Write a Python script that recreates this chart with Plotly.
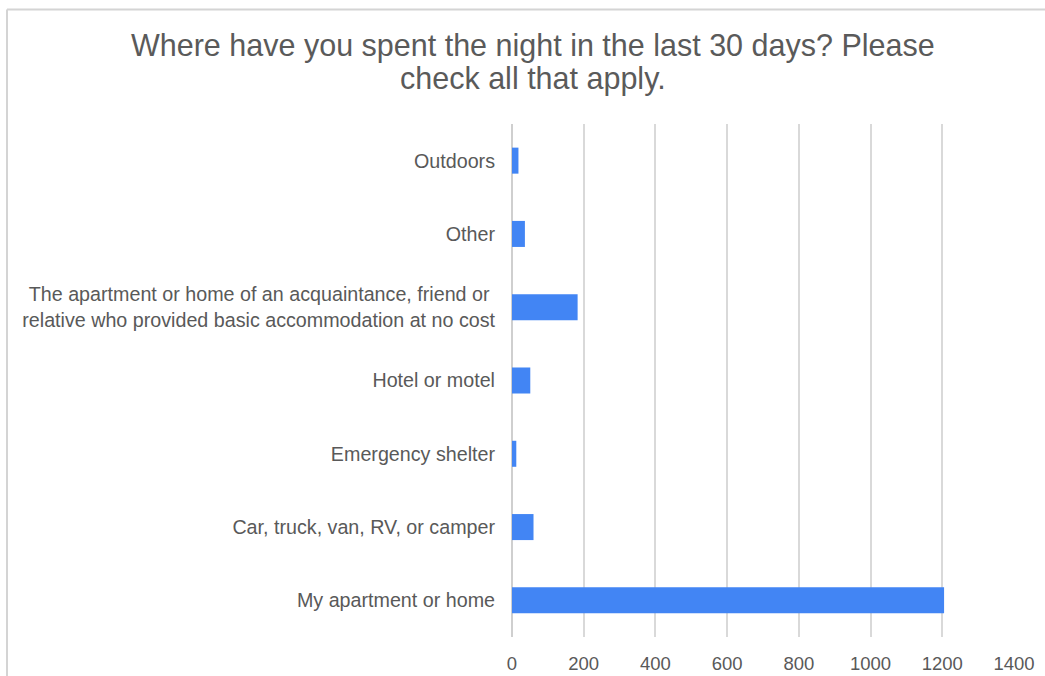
import plotly.graph_objects as go

categories = [
    "My apartment or home",
    "Car, truck, van, RV, or camper",
    "Emergency shelter",
    "Hotel or motel",
    "The apartment or home of an acquaintance, friend or <br>relative who provided basic accommodation at no cost",
    "Other",
    "Outdoors",
]
values = [1205, 60, 12, 51, 183, 36, 18]
x_ticks = [0, 200, 400, 600, 800, 1000, 1200, 1400]

title_lines = [
    "Where have you spent the night in the last 30 days? Please",
    "check all that apply.",
]

FONT = "Arial, Liberation Sans, Helvetica, sans-serif"
TXT = "#595959"

fig = go.Figure(
    go.Bar(
        y=categories,
        x=values,
        orientation="h",
        marker=dict(color="#4285f4", line=dict(width=0)),
        hoverinfo="x+y",
    )
)

W, H = 1045, 676
L, R, T, B = 512, 1014, 124.4, 636.6

def px(xp):
    return (xp - L) / (R - L)

def py(yp):
    return (B - yp) / (B - T)

border = dict(type="line", xref="paper", yref="paper", line=dict(color="#d4d4d4", width=2))
fig.add_shape(**border, x0=px(7), x1=px(7), y0=py(10), y1=py(690))
fig.add_shape(**border, x0=px(7), x1=px(1060), y0=py(10), y1=py(10))

for line, yc in zip(title_lines, [46, 79]):
    fig.add_annotation(
        text=line,
        xref="paper", yref="paper",
        x=px(533), y=py(yc),
        xanchor="center", yanchor="middle",
        showarrow=False,
        font=dict(family=FONT, size=30.5, color="#5a5a5a"),
    )

fig.update_layout(
    width=W,
    height=H,
    margin=dict(l=L, r=W - R, t=T, b=H - B, pad=0, autoexpand=False),
    paper_bgcolor="white",
    plot_bgcolor="white",
    bargap=0.645,
    showlegend=False,
    font=dict(family=FONT, color=TXT),
    xaxis=dict(
        range=[0, 1400],
        tickvals=x_ticks,
        ticktext=[str(v) for v in x_ticks],
        showgrid=True,
        gridcolor="#d9d9d9",
        gridwidth=1.5,
        zeroline=True,
        zerolinecolor="#cfcfcf",
        zerolinewidth=2,
        showline=False,
        ticks="",
        ticklabelstandoff=13,
        tickfont=dict(family=FONT, size=18.5, color=TXT),
        fixedrange=True,
        automargin=False,
    ),
    yaxis=dict(
        categoryorder="array",
        categoryarray=categories,
        showgrid=False,
        zeroline=False,
        showline=False,
        ticks="",
        ticklabelstandoff=16,
        tickfont=dict(family=FONT, size=19.7, color=TXT),
        fixedrange=True,
        automargin=False,
    ),
)

fig.write_html(
    "out.html",
    config={"displayModeBar": False},
    post_script="document.body.style.margin='0';document.body.style.overflow='hidden';",
)
